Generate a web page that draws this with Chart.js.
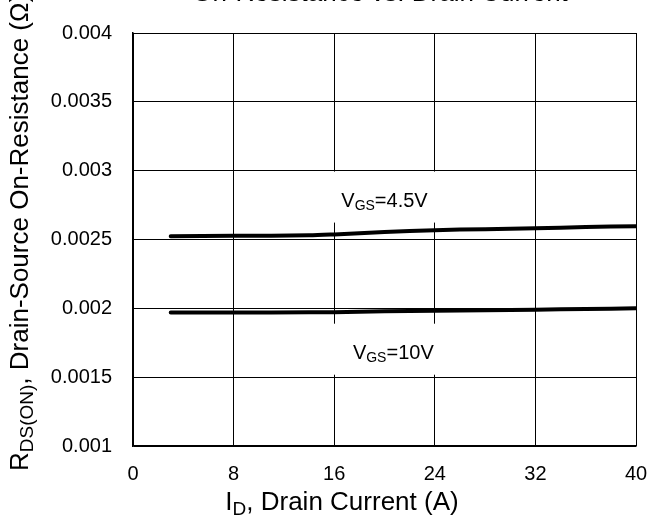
<!DOCTYPE html>
<html>
<head>
<meta charset="utf-8">
<script src="https://cdn.jsdelivr.net/npm/chart.js@4.4.1/dist/chart.umd.min.js"></script>
<style>
    html, body { margin: 0; padding: 0; background: #fff; }
    #wrap { width: 647px; height: 518px; }
</style>
</head>
<body>
<div id="wrap"><canvas id="chart" width="647" height="518"></canvas></div>
<script>
// Drain current (A) and on-resistance (ohm)
const current = [3, 8, 14, 16, 20, 24, 28, 32, 36, 40];
const rds45 = [0.002524, 0.002527, 0.00253, 0.002537, 0.002555, 0.002568, 0.002575, 0.002582, 0.00259, 0.002597];
const rds10 = [0.001970, 0.001970, 0.001971, 0.001972, 0.001978, 0.001982, 0.001986, 0.001990, 0.001995, 0.002000];
const xTicks = [0, 8, 16, 24, 32, 40];
const yTicks = [0.001, 0.0015, 0.002, 0.0025, 0.003, 0.0035, 0.004];

// curve labels: [main, subscript, rest, x, y]
const curveLabels = [
    ['V', 'GS', '=4.5V', 20.0, 0.00279],
    ['V', 'GS', '=10V', 20.7, 0.001685]
];

const FONT = '"Liberation Sans", Arial, sans-serif';

function toPoints(xs, ys) {
    return xs.map((x, i) => ({ x: x, y: ys[i] }));
}

// draw text with a subscript part; y is the middle of the capitals
function subText(ctx, parts, size, x, y, align) {
    const big = size + 'px ' + FONT;
    const small = Math.round(size * 0.72) + 'px ' + FONT;
    ctx.font = big;
    const w1 = ctx.measureText(parts[0]).width;
    const w3 = ctx.measureText(parts[2]).width;
    ctx.font = small;
    const w2 = ctx.measureText(parts[1]).width;
    const total = w1 + w2 + w3;
    let sx = align === 'center' ? x - total / 2 : x;
    const base = y + size * 0.36;
    ctx.textBaseline = 'alphabetic';
    ctx.textAlign = 'left';
    ctx.font = big;
    ctx.fillText(parts[0], sx, base);
    ctx.font = small;
    ctx.fillText(parts[1], sx + w1, base + size * 0.17);
    ctx.font = big;
    ctx.fillText(parts[2], sx + w1 + w2, base);
}

const labelPlugin = {
    id: 'labels',
    beforeDatasetsDraw(chart) {
        const ctx = chart.ctx;
        const xs = chart.scales.x, ys = chart.scales.y;
        ctx.save();
        curveLabels.forEach(l => {
            const px = xs.getPixelForValue(l[3]);
            const py = ys.getPixelForValue(l[4]);
            ctx.fillStyle = '#fff';
            ctx.fillRect(px - 65, py - 28, 130, 51);
            ctx.fillStyle = '#000';
            subText(ctx, l, 20, px, py, 'center');
        });
        ctx.restore();
    },
    afterDraw(chart) {
        const ctx = chart.ctx;
        ctx.save();
        ctx.fillStyle = '#000';
        // title, almost all of it above the window
        ctx.font = '26px ' + FONT;
        ctx.textAlign = 'center';
        ctx.textBaseline = 'alphabetic';
        ctx.fillText('On-Resistance vs. Drain Current', 380, 1);
        // x axis title
        subText(ctx, ['I', 'D', ', Drain Current (A)'], 26, 342, 501, 'center');
        // y axis title, rotated
        ctx.translate(19, 471);
        ctx.rotate(-Math.PI / 2);
        subText(ctx, ['R', 'DS(ON)', ', Drain-Source On-Resistance (\u03A9)'], 26, 0, 0, 'left');
        ctx.restore();
    }
};

new Chart(document.getElementById('chart').getContext('2d'), {
    type: 'scatter',
    data: {
        datasets: [
            {
                label: 'VGS=4.5V',
                data: toPoints(current, rds45),
                showLine: true,
                borderColor: '#000',
                borderWidth: 4,
                pointRadius: 0,
                tension: 0.3,
                borderCapStyle: 'round'
            },
            {
                label: 'VGS=10V',
                data: toPoints(current, rds10),
                showLine: true,
                borderColor: '#000',
                borderWidth: 4,
                pointRadius: 0,
                tension: 0.3,
                borderCapStyle: 'round'
            }
        ]
    },
    options: {
        responsive: false,
        animation: false,
        devicePixelRatio: 1,
        layout: { padding: { top: 33, right: 11, left: 0, bottom: 0 } },
        plugins: {
            legend: { display: false },
            tooltip: { enabled: false }
        },
        scales: {
            x: {
                type: 'linear',
                min: 0,
                max: 40,
                afterBuildTicks: scale => { scale.ticks = xTicks.map(v => ({ value: v })); },
                afterFit: scale => {
                    scale.height = 72;
                    scale.paddingLeft = 0;
                    scale.paddingRight = 0;
                },
                grid: { color: '#000', lineWidth: 1, drawTicks: false },
                border: { color: '#000', width: 1.5 },
                ticks: {
                    color: '#000',
                    padding: 16,
                    maxRotation: 0,
                    font: { family: FONT, size: 20 }
                }
            },
            y: {
                type: 'linear',
                min: 0.001,
                max: 0.004,
                afterBuildTicks: scale => { scale.ticks = yTicks.map(v => ({ value: v })); },
                afterFit: scale => {
                    scale.width = 133;
                    scale.paddingTop = 0;
                    scale.paddingBottom = 0;
                },
                grid: { color: '#000', lineWidth: 1, drawTicks: false },
                border: { color: '#000', width: 1.5 },
                ticks: {
                    color: '#000',
                    padding: 21,
                    font: { family: FONT, size: 20 },
                    callback: v => String(v)
                }
            }
        }
    },
    plugins: [labelPlugin]
});
</script>
</body>
</html>
